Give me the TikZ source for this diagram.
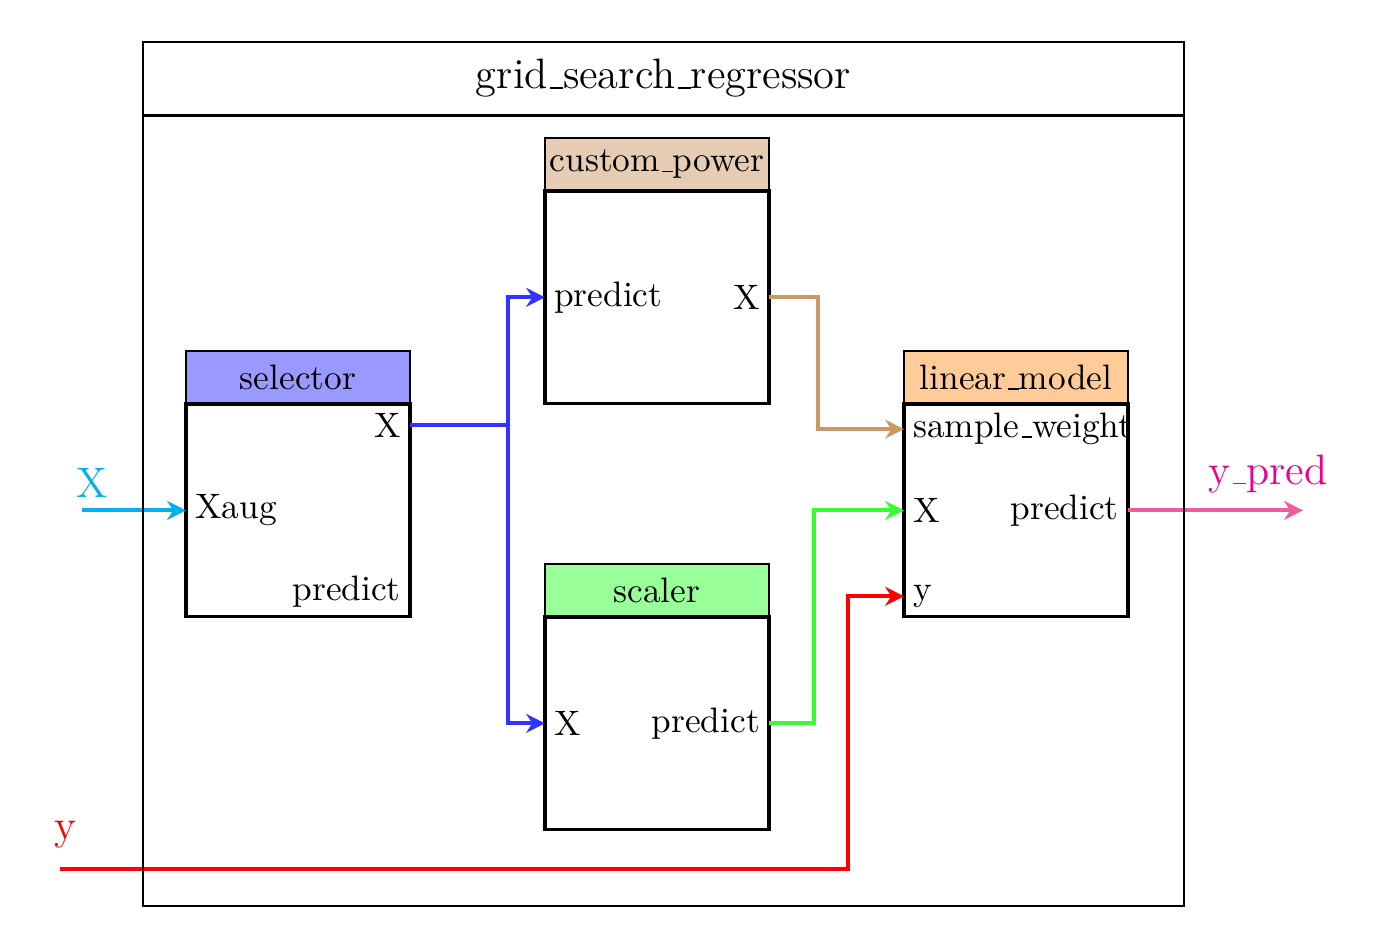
\documentclass[tikz,border=0pt]{standalone}
\usepackage{tikz}
\usetikzlibrary{arrows.meta, positioning}
\definecolor{selectorhead}{RGB}{153,153,255}
\definecolor{powerhead}{RGB}{229,204,178}
\definecolor{scalerhead}{RGB}{153,255,153}
\definecolor{linearhead}{RGB}{255,204,153}
\definecolor{xcyan}{RGB}{0,176,240}
\definecolor{selectorblue}{RGB}{51,51,255}
\definecolor{powertan}{RGB}{204,153,102}
\definecolor{scalergreen}{RGB}{51,255,51}
\definecolor{predpink}{RGB}{240,90,160}
\definecolor{predmagenta}{RGB}{236,0,140}
% short low underscore
\newcommand{\lowbar}{\leavevmode\kern.06em\vbox{\hrule width.3em}}
\tikzset{
    stephead/.style={rectangle, draw=black, minimum width=2.295cm, minimum height=0.543cm, inner sep=0pt, outer sep=0pt},
    stepbody/.style={rectangle, draw=black, line width=1pt, minimum width=2.295cm, minimum height=2.18cm, inner sep=0pt, outer sep=0pt},
    portlabel/.style={inner sep=2.5pt},
    wire/.style={-{Stealth[length=5.5pt, width=5.5pt, inset=1.8pt]}, very thick},
    iolabel/.style={font=\fontsize{12.4}{15}\selectfont},
}
\begin{document}
\begin{tikzpicture}[every node/.append style={font=\fontsize{10.3}{12.4}\selectfont}]
    \useasboundingbox (0,0) rectangle (14.16,9.713);
    % selector
    \node[stephead, fill=selectorhead] (selh) at (3.053,5.845) {selector};
    \node[stepbody, below=0pt of selh] (sel) {};
    \node[portlabel, anchor=north east] (selX) at (sel.north east) {X};
    \node[portlabel, anchor=west] (selXaug) at (sel.west) {Xaug};
    \node[portlabel, anchor=south east] (selpred) at (sel.south east) {predict};
    % custom_power
    \node[stephead, fill=powerhead] (cph) at (6.732,8.028) {custom\lowbar power};
    \node[stepbody, below=0pt of cph] (cp) {};
    \node[portlabel, anchor=west] (cppred) at (cp.west) {predict};
    \node[portlabel, anchor=east] (cpX) at (cp.east) {X};
    % scaler
    \node[stephead, fill=scalerhead] (sch) at (6.732,3.663) {scaler};
    \node[stepbody, below=0pt of sch] (sc) {};
    \node[portlabel, anchor=west] (scX) at (sc.west) {X};
    \node[portlabel, anchor=east] (scpred) at (sc.east) {predict};
    % linear_model
    \node[stephead, fill=linearhead] (lmh) at (10.410,5.845) {linear\lowbar model};
    \node[stepbody, below=0pt of lmh] (lm) {};
    \node[portlabel, anchor=north west] (lmsw) at (lm.north west) {sample\lowbar weight};
    \node[portlabel, anchor=west] (lmX) at (lm.west) {X};
    \node[portlabel, anchor=south west] (lmy) at (lm.south west) {y};
    \node[portlabel, anchor=east] (lmpred) at (lm.east) {predict};
    % bends and free ends
    \coordinate (xin) at (0.840,0);
    \coordinate (yin) at (0.615,0.809);
    \coordinate (yout) at (13.350,0);
    \coordinate (selsplit) at (5.205,0);
    \coordinate (cpbend) at (8.381,0);
    \coordinate (scbend) at (8.340,0);
    \coordinate (ybend) at (8.689,0);
    % wires
    \draw[wire, xcyan] (xin |- selXaug.west) -- (selXaug.west);
    \node[iolabel, text=xcyan] (xinlabel) at (0.943,4.764) {X};
    \draw[wire, red] (yin) -- (yin -| ybend) |- (lmy.west);
    \node[iolabel, text=red] (yinlabel) at (0.676,1.158) {y};
    \draw[wire, selectorblue] (selX.east) -- (selX.east -| selsplit) |- (cppred.west);
    \draw[wire, selectorblue] (selX.east) -- (selX.east -| selsplit) |- (scX.west);
    \draw[wire, powertan] (cpX.east) -- (cpX.east -| cpbend) |- (lmsw.west);
    \draw[wire, scalergreen] (scpred.east) -- (scpred.east -| scbend) |- (lmX.west);
    \draw[wire, predpink] (lmpred.east) -- (lmpred.east -| yout);
    \node[iolabel, text=predmagenta] (youtlabel) at (12.992,4.857) {y\lowbar pred};
    % grid_search_regressor frame
    \node[draw, minimum width=10.666cm, minimum height=8.853cm, inner sep=0pt] (gsr) at (6.798,4.857) {};
    \node[iolabel, anchor=north, minimum width=10.666cm, minimum height=0.748cm, inner sep=0pt] (gsrtitle) at (gsr.north) {grid\lowbar search\lowbar regressor};
    \draw[line width=1pt] (gsrtitle.south west) -- (gsrtitle.south east);
\end{tikzpicture}
\end{document}
